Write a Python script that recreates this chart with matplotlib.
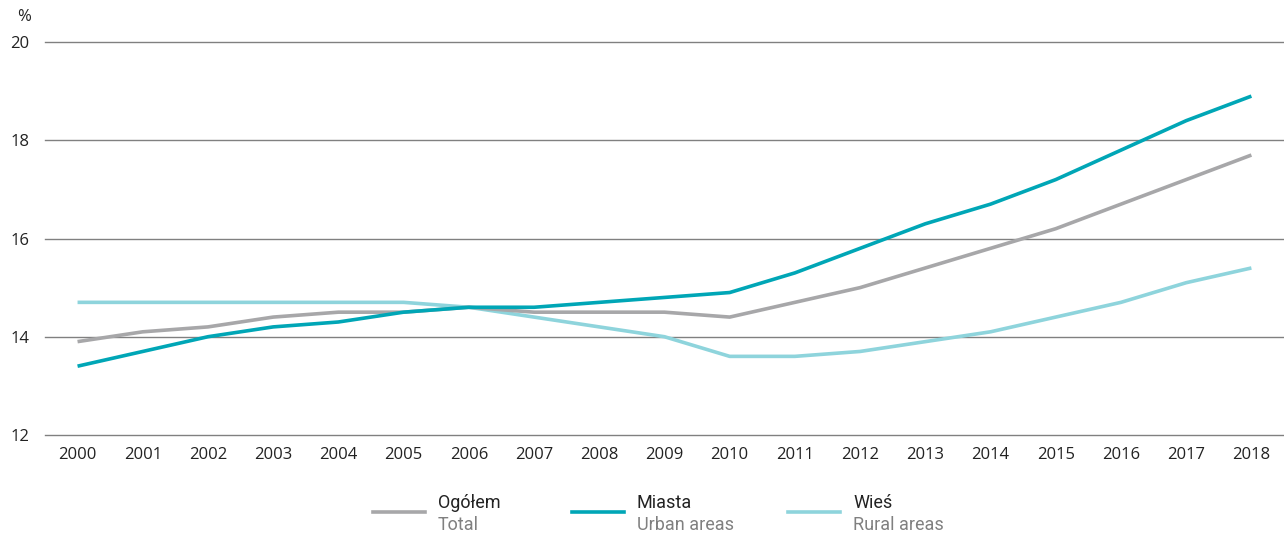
import matplotlib.pyplot as plt
from matplotlib.lines import Line2D

years = list(range(2000, 2019))
ogolem = [13.9, 14.1, 14.2, 14.4, 14.5, 14.5, 14.6, 14.5, 14.5, 14.5,
          14.4, 14.7, 15.0, 15.4, 15.8, 16.2, 16.7, 17.2, 17.7]
miasta = [13.4, 13.7, 14.0, 14.2, 14.3, 14.5, 14.6, 14.6, 14.7, 14.8,
          14.9, 15.3, 15.8, 16.3, 16.7, 17.2, 17.8, 18.4, 18.9]
wies = [14.7, 14.7, 14.7, 14.7, 14.7, 14.7, 14.6, 14.4, 14.2, 14.0,
        13.6, 13.6, 13.7, 13.9, 14.1, 14.4, 14.7, 15.1, 15.4]

names_pl = ["Ogółem", "Miasta", "Wieś"]
names_en = ["Total", "Urban areas", "Rural areas"]
colors = ["#a7a7a9", "#00a6b6", "#8ed4dc"]
series = [ogolem, miasta, wies]

plt.rcParams['font.family'] = ['Open Sans', 'DejaVu Sans']

fig = plt.figure(figsize=(12.84, 5.33), dpi=100)
ax = fig.add_axes([0.035, 0.184, 0.965, 0.737])

for y in [12, 14, 16, 18, 20]:
    ax.axhline(y, color="#808080", lw=1, zorder=1, clip_on=False)

# draw rural first so others sit on top
for i in [2, 0, 1]:
    ax.plot(years, series[i], color=colors[i], lw=2.6, zorder=3,
            solid_capstyle="butt")

ax.set_xlim(1999.5, 2018.5)
ax.set_ylim(12, 20)
ax.set_yticks([12, 14, 16, 18, 20])
ax.set_xticks(years)
ax.tick_params(length=0, labelsize=12, colors="#222222")
ax.tick_params(axis="y", pad=11)
ax.tick_params(axis="x", pad=9)
for s in ax.spines.values():
    s.set_visible(False)

fig.text(17 / 1284, 1 - 17 / 533, "%", fontsize=12, color="#222222",
         va="center", ha="left")

# legend
leg_x = [373, 572, 788]
for i in range(3):
    x0 = leg_x[i] / 1284
    x1 = (leg_x[i] + 52) / 1284
    yl = 1 - 512 / 533
    fig.add_artist(Line2D([x0, x1], [yl, yl], color=colors[i], lw=2.6,
                          transform=fig.transFigure))
    tx = (leg_x[i] + 65) / 1284
    fig.text(tx, 1 - 503 / 533, names_pl[i], fontsize=13, color="#222222",
             va="center", ha="left", family=["Roboto", "DejaVu Sans"])
    fig.text(tx, 1 - 525 / 533, names_en[i], fontsize=13, color="#808080",
             va="center", ha="left", family=["Roboto", "DejaVu Sans"])

fig.savefig("out.png", dpi=100)
